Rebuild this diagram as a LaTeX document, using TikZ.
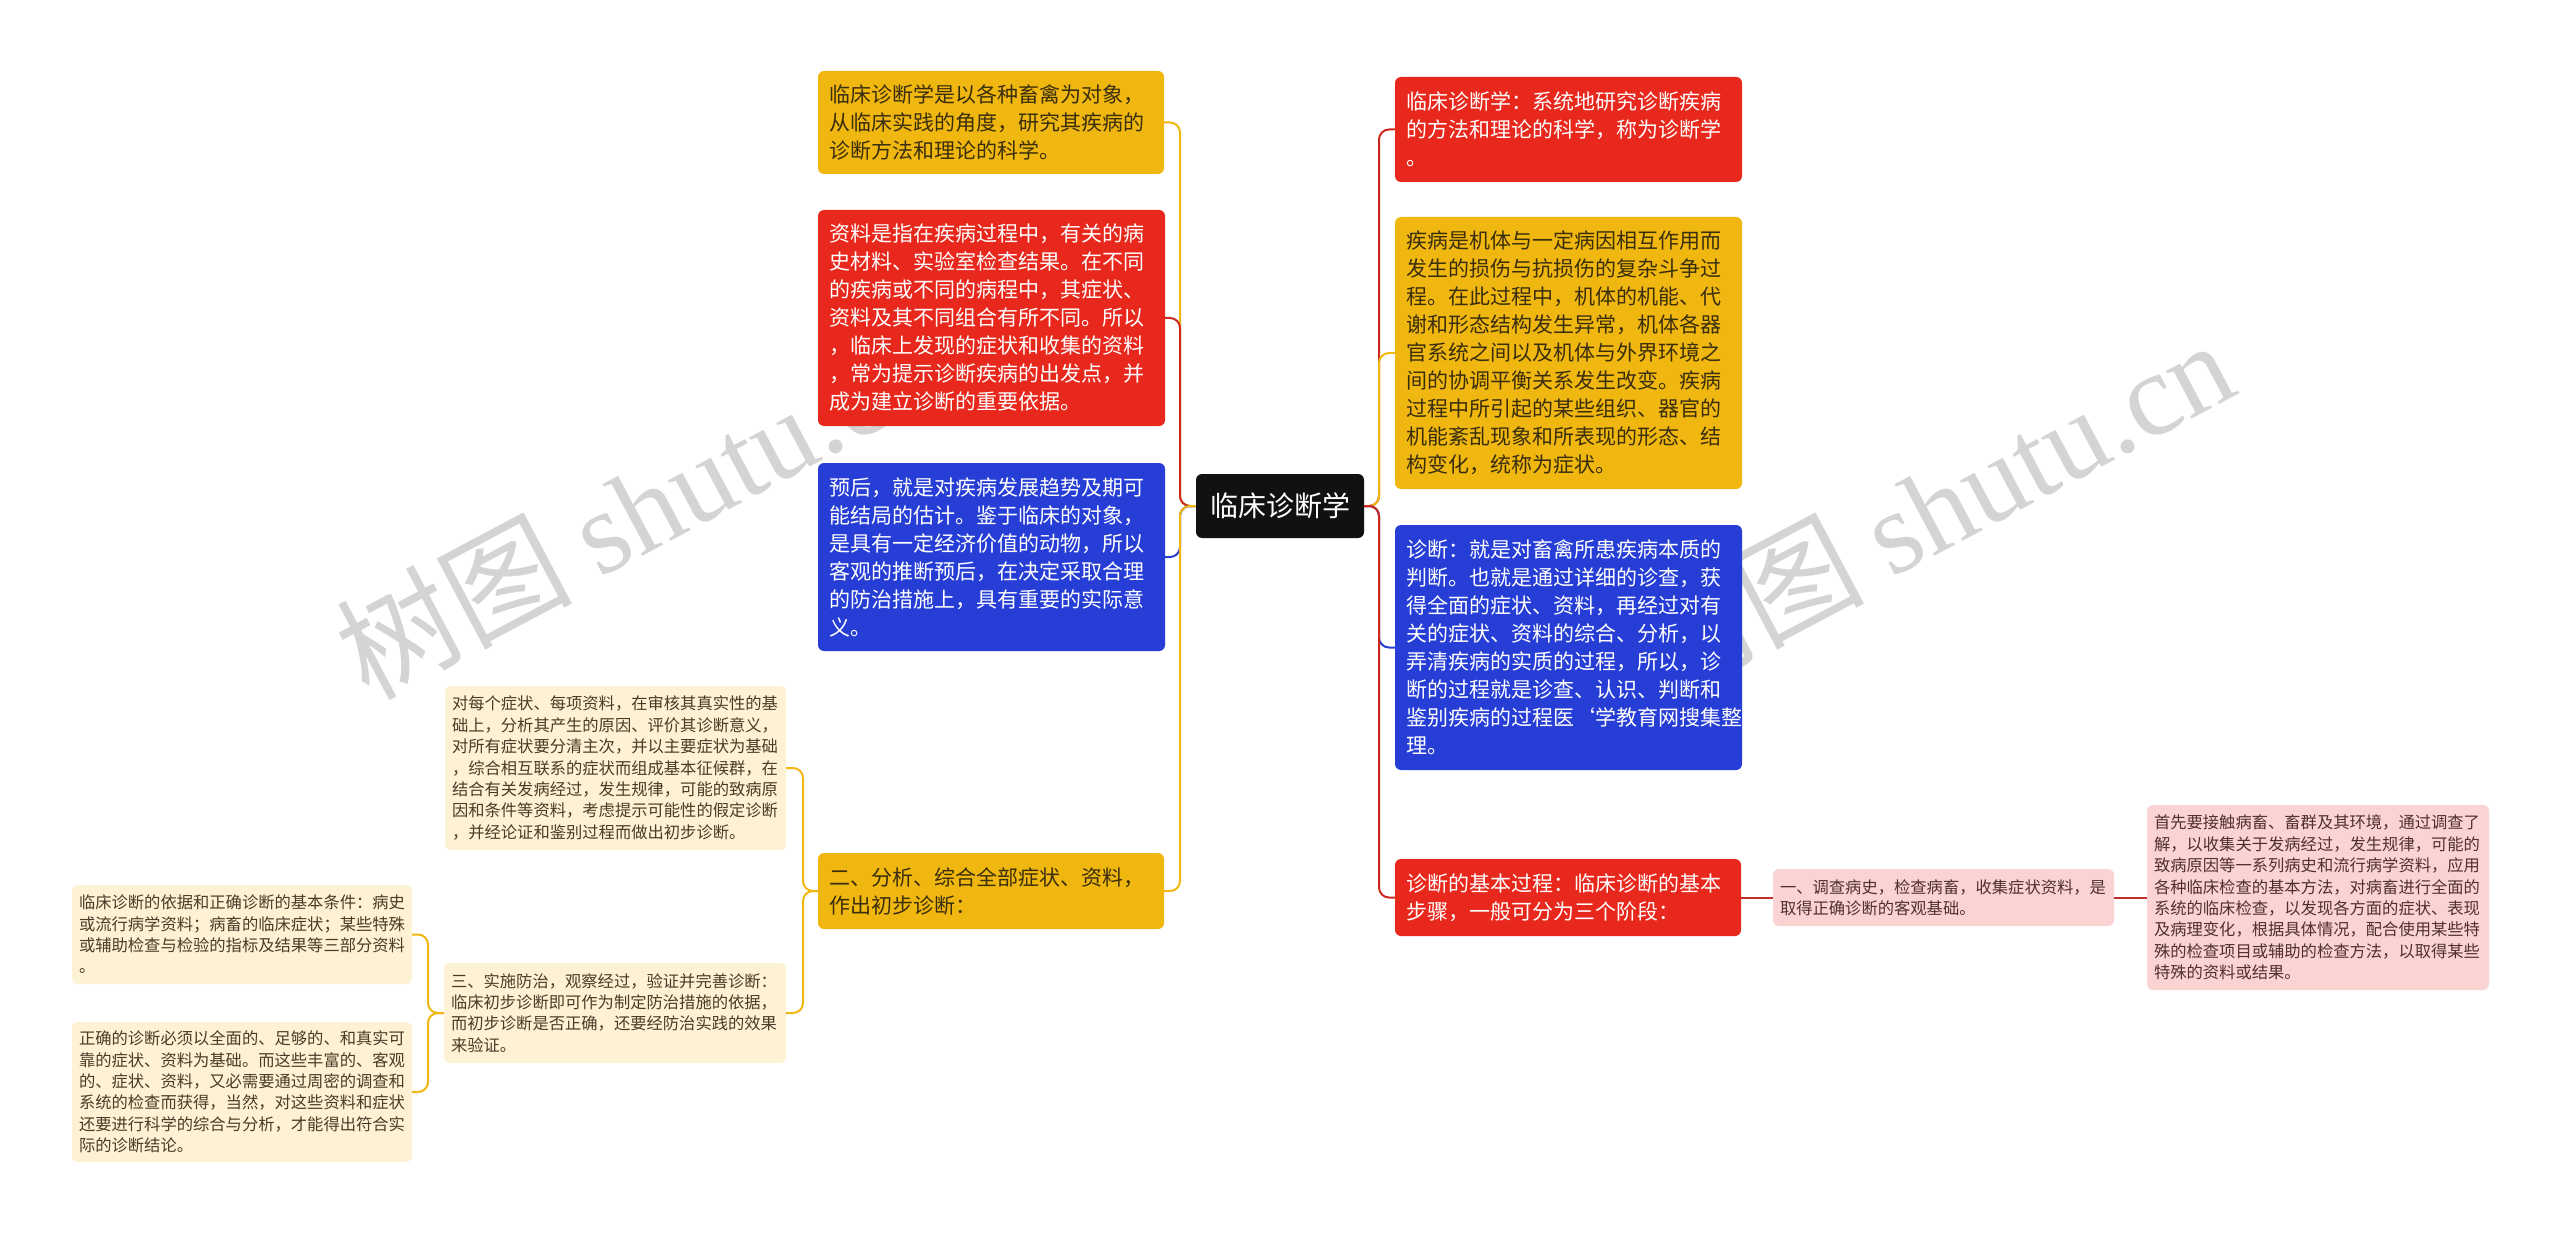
\documentclass[tikz,border=0pt]{standalone}
\usepackage{fontspec}
\setmainfont{Noto Sans CJK SC}
\newfontfamily\wmlatin{Liberation Serif}
\definecolor{cyel}{RGB}{240,183,16}
\definecolor{cred}{RGB}{232,40,28}
\definecolor{cblue}{RGB}{38,62,214}
\definecolor{croot}{RGB}{17,17,17}
\definecolor{clyel}{RGB}{253,242,212}
\definecolor{cpink}{RGB}{250,212,210}
\definecolor{ctxt}{RGB}{58,46,12}
\definecolor{cltxt}{RGB}{72,60,40}
\definecolor{cptxt}{RGB}{80,48,46}
\definecolor{credline}{RGB}{205,40,30}
\definecolor{cpinkline}{RGB}{190,50,45}
\tikzset{
	box/.style={rounded corners=6pt, inner ysep=0pt, align=left},
	bignode/.style={box, inner xsep=11pt, font=\fontsize{21}{28}\selectfont},
	smallnode/.style={box, inner xsep=7pt, font=\fontsize{16.3}{21.4}\selectfont},
	link/.style={line width=2pt, rounded corners=10pt},
	wmark/.style={rotate=28, anchor=base west, inner sep=0pt, text=black, opacity=.17, font=\fontsize{118}{118}\selectfont}
}
\begin{document}
\begin{tikzpicture}[x=1pt,y=-1pt]
		\fill[white](0,0)rectangle(2560,1233);
		\useasboundingbox(0,0)rectangle(2560,1233);
		\node[wmark](wm1) at (368,702){树图 {\wmlatin shutu.cn}};
		\node[wmark](wm2) at (1660,702){树图 {\wmlatin shutu.cn}};
		\node[box, fill=croot, text=white, minimum width=168pt, minimum height=64pt, align=center, font=\fontsize{28}{34}\selectfont](root) at (1280,506){临床诊断学};
		\node[bignode, fill=cyel, text=ctxt, text width=324pt, minimum height=103pt](a1) at (991,122.5){临床诊断学是以各种畜禽为对象，\\从临床实践的角度，研究其疾病的\\诊断方法和理论的科学。};
		\node[bignode, fill=cred, text=white, text width=325pt, minimum height=216pt](a2) at (991.5,318){资料是指在疾病过程中，有关的病\\史材料、实验室检查结果。在不同\\的疾病或不同的病程中，其症状、\\资料及其不同组合有所不同。所以\\，临床上发现的症状和收集的资料\\，常为提示诊断疾病的出发点，并\\成为建立诊断的重要依据。};
		\node[bignode, fill=cblue, text=white, text width=325pt, minimum height=188pt](a3) at (991.5,557){预后，就是对疾病发展趋势及期可\\能结局的估计。鉴于临床的对象，\\是具有一定经济价值的动物，所以\\客观的推断预后，在决定采取合理\\的防治措施上，具有重要的实际意\\义。};
		\node[bignode, fill=cyel, text=ctxt, text width=324pt, minimum height=76pt](a4) at (991,891){二、分析、综合全部症状、资料，\\作出初步诊断：};
		\node[smallnode, fill=clyel, text=cltxt, text width=327pt, minimum height=164pt](b1) at (615.5,768){对每个症状、每项资料，在审核其真实性的基\\础上，分析其产生的原因、评价其诊断意义，\\对所有症状要分清主次，并以主要症状为基础\\，综合相互联系的症状而组成基本征候群，在\\结合有关发病经过，发生规律，可能的致病原\\因和条件等资料，考虑提示可能性的假定诊断\\，并经论证和鉴别过程而做出初步诊断。};
		\node[smallnode, fill=clyel, text=cltxt, text width=328pt, minimum height=100pt](b2) at (615,1013){三、实施防治，观察经过，验证并完善诊断：\\临床初步诊断即可作为制定防治措施的依据，\\而初步诊断是否正确，还要经防治实践的效果\\来验证。};
		\node[smallnode, fill=clyel, text=cltxt, text width=326pt, minimum height=99pt](c1) at (242,934.5){临床诊断的依据和正确诊断的基本条件：病史\\或流行病学资料；病畜的临床症状；某些特殊\\或辅助检查与检验的指标及结果等三部分资料\\。};
		\node[smallnode, fill=clyel, text=cltxt, text width=326pt, minimum height=140pt](c2) at (242,1092){正确的诊断必须以全面的、足够的、和真实可\\靠的症状、资料为基础。而这些丰富的、客观\\的、症状、资料，又必需要通过周密的调查和\\系统的检查而获得，当然，对这些资料和症状\\还要进行科学的综合与分析，才能得出符合实\\际的诊断结论。};
		\node[bignode, fill=cred, text=white, text width=325pt, minimum height=105pt](d1) at (1568.5,129.5){临床诊断学：系统地研究诊断疾病\\的方法和理论的科学，称为诊断学\\。};
		\node[bignode, fill=cyel, text=ctxt, text width=325pt, minimum height=272pt](d2) at (1568.5,353){疾病是机体与一定病因相互作用而\\发生的损伤与抗损伤的复杂斗争过\\程。在此过程中，机体的机能、代\\谢和形态结构发生异常，机体各器\\官系统之间以及机体与外界环境之\\间的协调平衡关系发生改变。疾病\\过程中所引起的某些组织、器官的\\机能紊乱现象和所表现的形态、结\\构变化，统称为症状。};
		\node[bignode, fill=cblue, text=white, text width=325pt, minimum height=245pt](d3) at (1568.5,647.5){诊断：就是对畜禽所患疾病本质的\\判断。也就是通过详细的诊查，获\\得全面的症状、资料，再经过对有\\关的症状、资料的综合、分析，以\\弄清疾病的实质的过程，所以，诊\\断的过程就是诊查、认识、判断和\\鉴别疾病的过程医\symbol{"60}学教育网搜集整\\理。};
		\node[bignode, fill=cred, text=white, text width=324pt, minimum height=77pt](d4) at (1568,897.5){诊断的基本过程：临床诊断的基本\\步骤，一般可分为三个阶段：};
		\node[smallnode, fill=cpink, text=cptxt, text width=327pt, minimum height=57pt](e1) at (1943.5,897.5){一、调查病史，检查病畜，收集症状资料，是\\取得正确诊断的客观基础。};
		\node[smallnode, fill=cpink, text=cptxt, text width=328pt, minimum height=185pt](f1) at (2318,897.5){首先要接触病畜、畜群及其环境，通过调查了\\解，以收集关于发病经过，发生规律，可能的\\致病原因等一系列病史和流行病学资料，应用\\各种临床检查的基本方法，对病畜进行全面的\\系统的临床检查，以发现各方面的症状、表现\\及病理变化，根据具体情况，配合使用某些特\\殊的检查项目或辅助的检查方法，以取得某些\\特殊的资料或结果。};
		\coordinate(tl) at (1180,506);
		\coordinate(tr) at (1379,506);
		\coordinate(tb) at (803,891);
		\coordinate(tc) at (428,1013);
		\draw[link, cyel](root.west)--(tl)|-(a1.east);
		\draw[link, credline](root.west)--(tl)|-(a2.east);
		\draw[link, cblue](root.west)--(tl)|-(a3.east);
		\draw[link, cyel](root.west)--(tl)|-(a4.east);
		\draw[link, credline](root.east)--(tr)|-(d1.west);
		\draw[link, cyel](root.east)--(tr)|-(d2.west);
		\draw[link, cblue](root.east)--(tr)|-(d3.west);
		\draw[link, credline](root.east)--(tr)|-(d4.west);
		\draw[link, cyel](a4.west)--(tb)|-(b1.east);
		\draw[link, cyel](a4.west)--(tb)|-(b2.east);
		\draw[link, cyel](b2.west)--(tc)|-(c1.east);
		\draw[link, cyel](b2.west)--(tc)|-(c2.east);
		\draw[link, cpinkline](d4.east)--(e1.west);
		\draw[link, cpinkline](e1.east)--(f1.west);
	\end{tikzpicture}
\end{document}
